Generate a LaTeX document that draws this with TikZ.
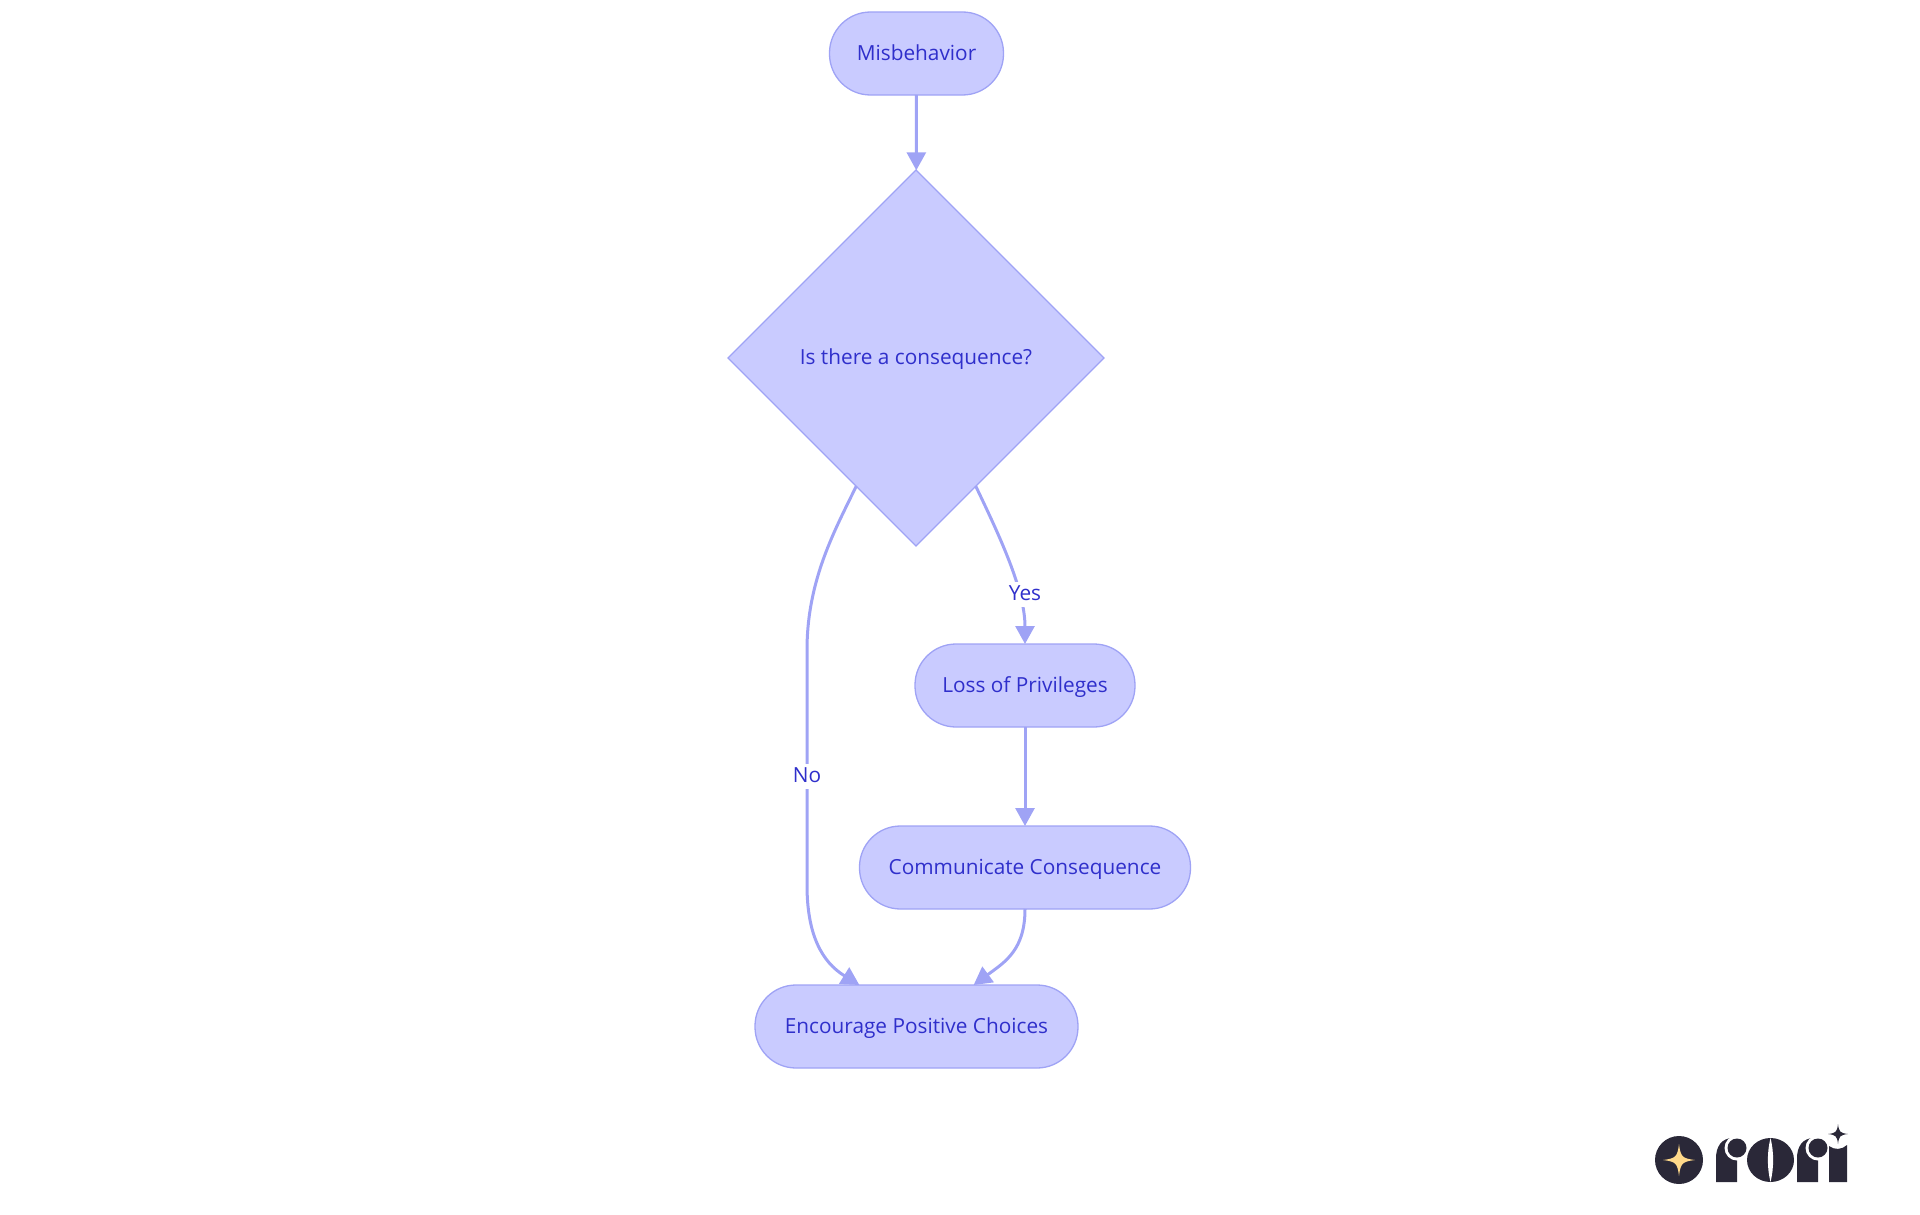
\documentclass[tikz,border=0pt]{standalone}
\usepackage{xcolor}
\usepackage{fontspec}
\setmainfont{Open Sans}
\usetikzlibrary{shapes.geometric, arrows.meta}
\definecolor{boxfill}{HTML}{C9CBFF}
\definecolor{boxline}{HTML}{9FA3F5}
\definecolor{boxtext}{HTML}{2F2FCB}
\definecolor{logoink}{HTML}{2A2838}
\definecolor{logostar}{HTML}{FFD98A}

\begin{document}
\begin{tikzpicture}[
  x=1pt, y=-1pt,
  every node/.style={font=\fontsize{20.8}{24}\selectfont, text=boxtext, text height=13.5pt, text depth=0pt, outer sep=0pt},
  pill/.style={draw=boxline, fill=boxfill, line width=1.3pt, rectangle, rounded corners=41pt, minimum height=83pt, inner sep=0pt},
  choice/.style={draw=boxline, fill=boxfill, line width=1.3pt, diamond, aspect=1, minimum width=376pt, minimum height=376pt, inner sep=0pt},
  flow/.style={draw=boxline, line width=3pt, -{Triangle[length=18pt, width=19pt]}},
  edgetext/.style={fill=white, inner sep=0pt, minimum height=25pt},
  sparkle/.pic={\fill[pic actions] (1,0) .. controls (.2,.1) and (.1,.2) .. (0,1) .. controls (-.1,.2) and (-.2,.1) .. (-1,0) .. controls (-.2,-.1) and (-.1,-.2) .. (0,-1) .. controls (.1,-.2) and (.2,-.1) .. (1,0) -- cycle;}
]
\useasboundingbox (0,0) rectangle (1920,1215);

\node[pill, minimum width=174pt] (misbehavior) at (916.5,53.5) {Misbehavior};
\node[choice] (consequence) at (916,358) {Is there a consequence?};
\node[pill, minimum width=220pt] (loss) at (1025,685.5) {Loss of Privileges};
\node[pill, minimum width=331pt] (communicate) at (1025,867.5) {Communicate Consequence};
\node[pill, minimum width=323pt] (encourage) at (916.5,1026.5) {Encourage Positive Choices};

\draw[flow] (misbehavior) -- (consequence);
\draw[flow] (consequence.295) .. controls (1000,537) and (1025,590) .. (loss.north);
\draw[flow] (loss) -- (communicate);
\draw[flow] (consequence.245) .. controls (835,530) and (807,580) .. (807,650) -- (807,885) .. controls (807,935) and (822,962) .. (encourage.144);
\draw[flow] (communicate.south) .. controls (1025,950) and (1005,962) .. (encourage.36);

\node[edgetext] (yes) at (1025,594) {Yes};
\node[edgetext] (no) at (807,776) {No};

\fill[logoink] (1679,1160) circle (24);
\pic[scale=16, fill=logostar] at (1679,1160) {sparkle};
\foreach \shift in {0,81} {
  \begin{scope}[xshift=\shift pt]
    \fill[logoink] (1716,1182) -- (1716,1158) .. controls (1716,1146) and (1722,1138) .. (1733,1138) -- (1737,1138) -- (1737,1182) -- cycle;
    \fill[white] (1737,1148) circle (12.5);
    \fill[logoink] (1737,1148) circle (9.5);
  \end{scope}
}
\fill[logoink] (1770.5,1160) ellipse (23.5 and 22);
\fill[white] (1770.5,1138) .. controls (1767,1152) and (1767,1168) .. (1770.5,1182) .. controls (1774,1168) and (1774,1152) .. (1770.5,1138) -- cycle;
\fill[logoink] (1829,1182) -- (1829,1146) .. controls (1834,1150) and (1842,1150) .. (1847,1145) -- (1847,1182) -- cycle;
\pic[scale=10, fill=logoink] at (1838,1134) {sparkle};
\end{tikzpicture}
\end{document}
